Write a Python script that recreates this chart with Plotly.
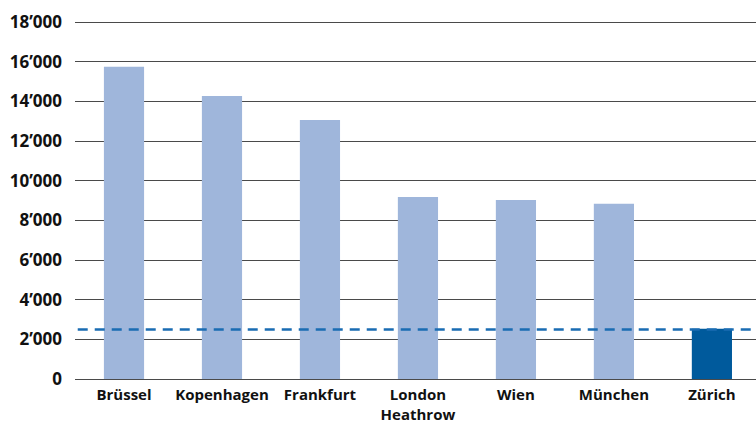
import plotly.graph_objects as go

categories = ["Brüssel", "Kopenhagen", "Frankfurt", "London<br>Heathrow", "Wien", "München", "Zürich"]
values = [15750, 14280, 13070, 9180, 9030, 8840, 2540]
bar_colors = ["#9fb6db"] * 6 + ["#005a9c"]
reference_value = 2500
tick_vals = [0, 2000, 4000, 6000, 8000, 10000, 12000, 14000, 16000, 18000]
tick_text = ["0", "2’000", "4’000", "6’000", "8’000", "10’000", "12’000", "14’000", "16’000", "18’000"]

fig = go.Figure()
fig.add_trace(go.Bar(x=categories, y=values, marker=dict(color=bar_colors, line=dict(width=0)), width=0.41))

fig.add_shape(type="line", xref="paper", yref="y", x0=0.004, x1=1, y0=reference_value, y1=reference_value,
              line=dict(color="#1a6cb3", width=2.5, dash="10px,7px"), layer="above")

fig.update_layout(
    width=756, height=426,
    margin=dict(l=75, r=0, t=21, b=47, autoexpand=False),
    paper_bgcolor="white", plot_bgcolor="white",
    showlegend=False,
    font=dict(family="Open Sans", color="#111111"),
    xaxis=dict(range=[-0.5, 6.45], showgrid=False, showline=False, zeroline=False, automargin=False,
               tickfont=dict(size=15, family="Open Sans", weight="bold"), ticks="", ticklabelstandoff=5),
    yaxis=dict(range=[0, 18060], tickvals=tick_vals, ticktext=tick_text, showgrid=True, automargin=False,
               gridcolor="#4a4a4a", gridwidth=1, zeroline=True, zerolinecolor="#4a4a4a", zerolinewidth=1,
               showline=False, ticks="", ticklabelstandoff=12,
               tickfont=dict(size=17, family="Open Sans", weight="bold")),
)

fig.write_html("out.html")
